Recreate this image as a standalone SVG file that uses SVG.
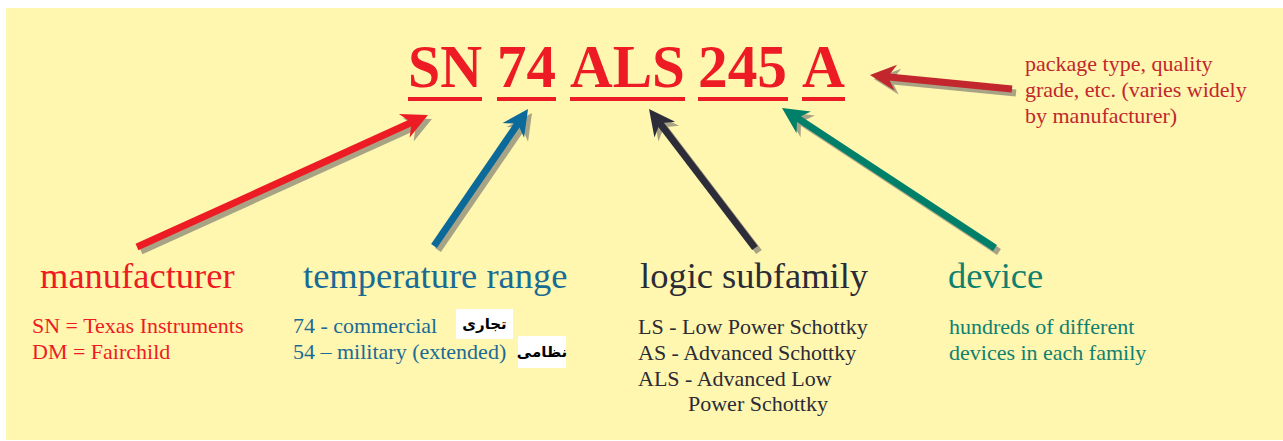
<svg xmlns="http://www.w3.org/2000/svg" width="1283" height="441" viewBox="0 0 1283 441">
<style>
.bg{fill:#FFF6AF}
.title{font-family:"Liberation Serif","Times New Roman",serif;font-weight:bold;font-size:62px;fill:#ED1C24}
.ul{fill:#ED1C24}
.lab{font-family:"Liberation Serif","Times New Roman",serif;font-size:36.5px}
.sub{font-family:"Liberation Serif","Times New Roman",serif;font-size:22px}
.fa{font-family:"DejaVu Sans","Noto Sans",sans-serif;font-size:15px;font-weight:bold;fill:#000;text-anchor:middle}
.red{fill:#ED1C24}
.blue{fill:#1A6B94}
.dark{fill:#2B2B36}
.teal{fill:#0F8070}
.dred{fill:#C1272D}
.shaft{fill:none;stroke-width:7;stroke-linecap:butt}
.shadow{fill:none;stroke:#A8A384;stroke-width:7}
</style>
<defs>
<marker id="mRed" viewBox="-14 -14 30 28" refX="0" refY="0" markerWidth="30" markerHeight="28" markerUnits="userSpaceOnUse" orient="auto"><path d="M14,0 L-12,-13 L-4,0 L-12,13 Z" fill="#ED1C24"/></marker>
<marker id="mBlue" viewBox="-14 -14 30 28" refX="0" refY="0" markerWidth="30" markerHeight="28" markerUnits="userSpaceOnUse" orient="auto"><path d="M14,0 L-12,-13 L-4,0 L-12,13 Z" fill="#0B6A9A"/></marker>
<marker id="mDark" viewBox="-14 -14 30 28" refX="0" refY="0" markerWidth="30" markerHeight="28" markerUnits="userSpaceOnUse" orient="auto"><path d="M14,0 L-12,-13 L-4,0 L-12,13 Z" fill="#2D2D3A"/></marker>
<marker id="mTeal" viewBox="-14 -14 30 28" refX="0" refY="0" markerWidth="30" markerHeight="28" markerUnits="userSpaceOnUse" orient="auto"><path d="M14,0 L-12,-13 L-4,0 L-12,13 Z" fill="#008069"/></marker>
<marker id="mDred" viewBox="-14 -14 30 28" refX="0" refY="0" markerWidth="30" markerHeight="28" markerUnits="userSpaceOnUse" orient="auto"><path d="M14,0 L-12,-13 L-4,0 L-12,13 Z" fill="#C1272D"/></marker>
<marker id="mShadow" viewBox="-14 -14 30 28" refX="0" refY="0" markerWidth="30" markerHeight="28" markerUnits="userSpaceOnUse" orient="auto"><path d="M14,0 L-12,-13 L-4,0 L-12,13 Z" fill="#A8A384"/></marker>
</defs>
<rect class="bg" x="6" y="8" width="1277" height="432"/>

<g id="title">
<text class="title" x="408" y="87" textLength="74" lengthAdjust="spacingAndGlyphs">SN</text>
<text class="title" x="497" y="87" textLength="59" lengthAdjust="spacingAndGlyphs">74</text>
<text class="title" x="570" y="87" textLength="115" lengthAdjust="spacingAndGlyphs">ALS</text>
<text class="title" x="698" y="87" textLength="89" lengthAdjust="spacingAndGlyphs">245</text>
<text class="title" x="802" y="87" textLength="43" lengthAdjust="spacingAndGlyphs">A</text>
<rect class="ul" x="408" y="97" width="74" height="4"/>
<rect class="ul" x="497" y="97" width="59" height="4"/>
<rect class="ul" x="570" y="97" width="115" height="4"/>
<rect class="ul" x="698" y="97" width="90" height="4"/>
<rect class="ul" x="802" y="97" width="43" height="4"/>
</g>

<g id="connectors">
<g transform="translate(4,4)">
<line class="shadow" x1="137" y1="247" x2="415.2" y2="120.8" marker-end="url(#mShadow)"/>
<line class="shadow" x1="434" y1="246" x2="520.1" y2="120.5" marker-end="url(#mShadow)"/>
<line class="shadow" x1="755" y1="248" x2="657.5" y2="120.1" marker-end="url(#mShadow)"/>
<line class="shadow" x1="995" y1="248" x2="793.7" y2="115.7" marker-end="url(#mShadow)"/>
<line class="shadow" x1="1012" y1="89" x2="883.9" y2="76.4" marker-end="url(#mShadow)"/>
</g>
<line class="shaft" stroke="#ED1C24" x1="137" y1="247" x2="415.2" y2="120.8" marker-end="url(#mRed)"/>
<line class="shaft" stroke="#0B6A9A" x1="434" y1="246" x2="520.1" y2="120.5" marker-end="url(#mBlue)"/>
<line class="shaft" stroke="#2D2D3A" x1="755" y1="248" x2="657.5" y2="120.1" marker-end="url(#mDark)"/>
<line class="shaft" stroke="#008069" x1="995" y1="248" x2="793.7" y2="115.7" marker-end="url(#mTeal)"/>
<line class="shaft" stroke="#C1272D" x1="1012" y1="89" x2="883.9" y2="76.4" marker-end="url(#mDred)"/>
</g>

<g id="package">
<text class="sub dred" x="1025" y="71">package type, quality</text>
<text class="sub dred" x="1025" y="97">grade, etc. (varies widely</text>
<text class="sub dred" x="1025" y="123">by manufacturer)</text>
</g>

<g id="manufacturer">
<text class="lab red" x="40" y="288">manufacturer</text>
<text class="sub red" x="32" y="333">SN = Texas Instruments</text>
<text class="sub red" x="32" y="359">DM = Fairchild</text>
</g>

<g id="temperature">
<text class="lab blue" x="303" y="288">temperature range</text>
<text class="sub blue" x="293" y="333">74 - commercial</text>
<text class="sub blue" x="293" y="359">54 – military (extended)</text>
<rect x="456" y="309" width="57" height="30" fill="#fff"/>
<text class="fa" x="484.5" y="329" direction="rtl">تجاری</text>
<rect x="518" y="336" width="48" height="32" fill="#fff"/>
<text class="fa" x="542" y="357" direction="rtl">نظامی</text>
</g>

<g id="logic">
<text class="lab dark" x="640" y="288">logic subfamily</text>
<text class="sub dark" x="638" y="334">LS - Low Power Schottky</text>
<text class="sub dark" x="638" y="360">AS - Advanced Schottky</text>
<text class="sub dark" x="638" y="386">ALS - Advanced Low</text>
<text class="sub dark" x="688" y="411">Power Schottky</text>
</g>

<g id="device">
<text class="lab teal" x="948" y="288">device</text>
<text class="sub teal" x="949" y="334">hundreds of different</text>
<text class="sub teal" x="949" y="360">devices in each family</text>
</g>
</svg>
